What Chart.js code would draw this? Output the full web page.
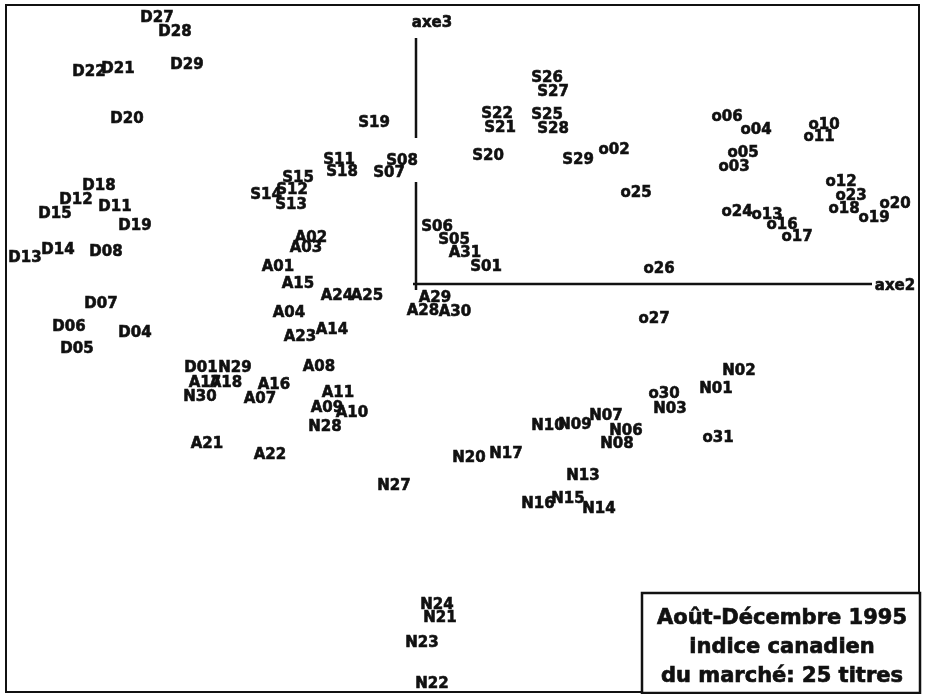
<!DOCTYPE html>
<html>
<head>
<meta charset="utf-8">
<title>Août-Décembre 1995</title>
<script src="https://cdn.jsdelivr.net/npm/chart.js@4"></script>
<style>
  body { margin: 0; background: #fff; }
  canvas { display: block; }
</style>
</head>
<body>
<canvas id="planChart" width="926" height="694"></canvas>
<script>
// D points
const dNames = ['D27','D28','D22','D21','D29','D20','D18','D12','D11','D15','D19','D13','D14','D08','D07','D06','D04','D05','D01'];
const dX = [-25.9,-24.1,-32.7,-29.8,-22.9,-28.9,-31.7,-34.0,-30.1,-36.1,-28.1,-39.1,-35.8,-31.0,-31.5,-34.7,-28.1,-33.9,-21.5];
const dY = [26.6,25.2,21.2,21.5,21.9,16.5,9.8,8.4,7.7,7.0,5.8,2.6,3.4,3.2,-2.0,-4.3,-4.9,-6.5,-8.4];

// S points
const sNames = ['S19','S22','S21','S26','S27','S25','S28','S20','S29','S11','S18','S08','S07','S15','S12','S14','S13','S06','S05','S01'];
const sX = [-4.2,8.1,8.4,13.1,13.7,13.1,13.7,7.2,16.2,-7.7,-7.4,-1.4,-2.7,-11.8,-12.4,-15.0,-12.5,2.1,3.8,7.0];
const sY = [16.1,17.0,15.6,20.6,19.2,16.9,15.5,12.8,12.4,12.4,11.2,12.3,11.1,10.6,9.4,8.9,7.9,5.7,4.4,1.7];

// A points
const aNames = ['A02','A03','A01','A15','A24','A25','A31','A29','A28','A30','A04','A23','A14','A08','A17','A18','A16','A07','A11','A09','A10','A21','A22'];
const aX = [-10.5,-11.0,-13.8,-11.8,-7.9,-4.9,4.9,1.9,0.7,3.9,-12.7,-11.6,-8.4,-9.7,-21.1,-19.0,-14.2,-15.6,-7.8,-8.9,-6.4,-20.9,-14.6];
const aY = [4.6,3.6,1.7,0.0,-1.2,-1.2,3.1,-1.4,-2.7,-2.8,-2.9,-5.3,-4.6,-8.3,-9.9,-9.9,-10.1,-11.5,-10.9,-12.4,-12.9,-16.0,-17.1];

// N points
const nNames = ['N29','N30','N28','N02','N01','N03','N06','N08','N07','N09','N10','N17','N20','N13','N16','N15','N14','N27','N24','N21','N23','N22'];
const nX = [-18.1,-21.6,-9.1,32.3,30.0,25.4,21.0,20.1,19.0,15.9,13.2,9.0,5.3,16.7,12.2,15.2,18.3,-2.2,2.1,2.4,0.6,1.6];
const nY = [-8.4,-11.3,-14.3,-8.7,-10.5,-12.5,-14.7,-16.0,-13.2,-14.1,-14.2,-17.0,-17.4,-19.2,-22.0,-21.5,-22.5,-20.2,-32.1,-33.4,-35.9,-40.0];

// o points
const oNames = ['o02','o06','o04','o10','o11','o05','o03','o25','o12','o23','o18','o20','o19','o24','o13','o16','o17','o26','o27','o30','o31'];
const oX = [19.8,31.1,34.0,40.8,40.3,32.7,31.8,22.0,42.5,43.5,42.8,47.9,45.8,32.1,35.1,36.6,38.1,24.3,23.8,24.8,30.2];
const oY = [13.4,16.7,15.4,15.9,14.7,13.1,11.7,9.1,10.2,8.8,7.5,8.0,6.6,7.2,6.9,5.9,4.7,1.5,-3.5,-11.0,-15.4];

// axes of the plane
const axisNames = ['axe3','axe2'];
const axisX = [1.6,47.9];
const axisY = [26.1,-0.2];
const axe3Top = 24.6, axe3GapTop = 14.6, axe3GapBottom = 10.2, axe2End = 45.6;

const boxLines = ['Août-Décembre 1995', 'indice canadien', 'du marché: 25 titres'];

const toPoints = (xs, ys) => xs.map((x, i) => ({ x: x, y: ys[i] }));

const labelDataset = (names, xs, ys) => ({
    data: toPoints(xs, ys),
    names: names,
    pointRadius: 0,
    pointHoverRadius: 0,
    showLine: false
});

const lineDataset = (pts) => ({
    data: pts,
    showLine: true,
    borderColor: '#111',
    borderWidth: 2.5,
    pointRadius: 0,
    pointHoverRadius: 0,
    fill: false
});

// draws text labels at the data points
const textLabels = {
    id: 'textLabels',
    afterDatasetsDraw(chart) {
        const ctx = chart.ctx;
        ctx.save();
        ctx.fillStyle = '#111';
        ctx.strokeStyle = '#111';
        ctx.lineWidth = 0.6;
        ctx.font = 'bold 15px "DejaVu Sans"';
        ctx.textAlign = 'center';
        ctx.textBaseline = 'middle';
        chart.data.datasets.forEach((ds, i) => {
            if (!ds.names) return;
            chart.getDatasetMeta(i).data.forEach((el, j) => {
                ctx.fillText(ds.names[j], el.x, el.y);
                ctx.strokeText(ds.names[j], el.x, el.y);
            });
        });
        ctx.restore();
    }
};

// outer frame and the caption box
const frameBox = {
    id: 'frameBox',
    afterDraw(chart) {
        const ctx = chart.ctx;
        ctx.save();
        ctx.strokeStyle = '#111';
        ctx.lineWidth = 2;
        ctx.strokeRect(6, 5, 913, 687);
        ctx.fillStyle = '#fff';
        ctx.fillRect(642, 593, 278, 100);
        ctx.lineWidth = 2.5;
        ctx.strokeRect(642, 593, 278, 100);
        ctx.fillStyle = '#111';
        ctx.lineWidth = 0.7;
        ctx.font = 'bold 21px "DejaVu Sans"';
        ctx.textAlign = 'center';
        ctx.textBaseline = 'middle';
        boxLines.forEach((t, i) => {
            ctx.fillText(t, 782, 619 + i * 29);
            ctx.strokeText(t, 782, 619 + i * 29);
        });
        ctx.restore();
    }
};

const chart = new Chart(document.getElementById('planChart'), {
    type: 'scatter',
    data: {
        datasets: [
            lineDataset([{ x: 0, y: axe3Top }, { x: 0, y: axe3GapTop }]),
            lineDataset([{ x: 0, y: axe3GapBottom }, { x: 0, y: -0.6 }]),
            lineDataset([{ x: -0.3, y: 0 }, { x: axe2End, y: 0 }]),
            labelDataset(dNames, dX, dY),
            labelDataset(sNames, sX, sY),
            labelDataset(aNames, aX, aY),
            labelDataset(nNames, nX, nY),
            labelDataset(oNames, oX, oY),
            labelDataset(axisNames, axisX, axisY)
        ]
    },
    options: {
        responsive: false,
        animation: false,
        devicePixelRatio: 1,
        layout: { padding: 0 },
        plugins: {
            legend: { display: false },
            tooltip: { enabled: false }
        },
        scales: {
            x: { type: 'linear', display: false, min: -41.6, max: 51.0 },
            y: { type: 'linear', display: false, min: -41.0, max: 28.4 }
        }
    },
    plugins: [textLabels, frameBox]
});
</script>
</body>
</html>
